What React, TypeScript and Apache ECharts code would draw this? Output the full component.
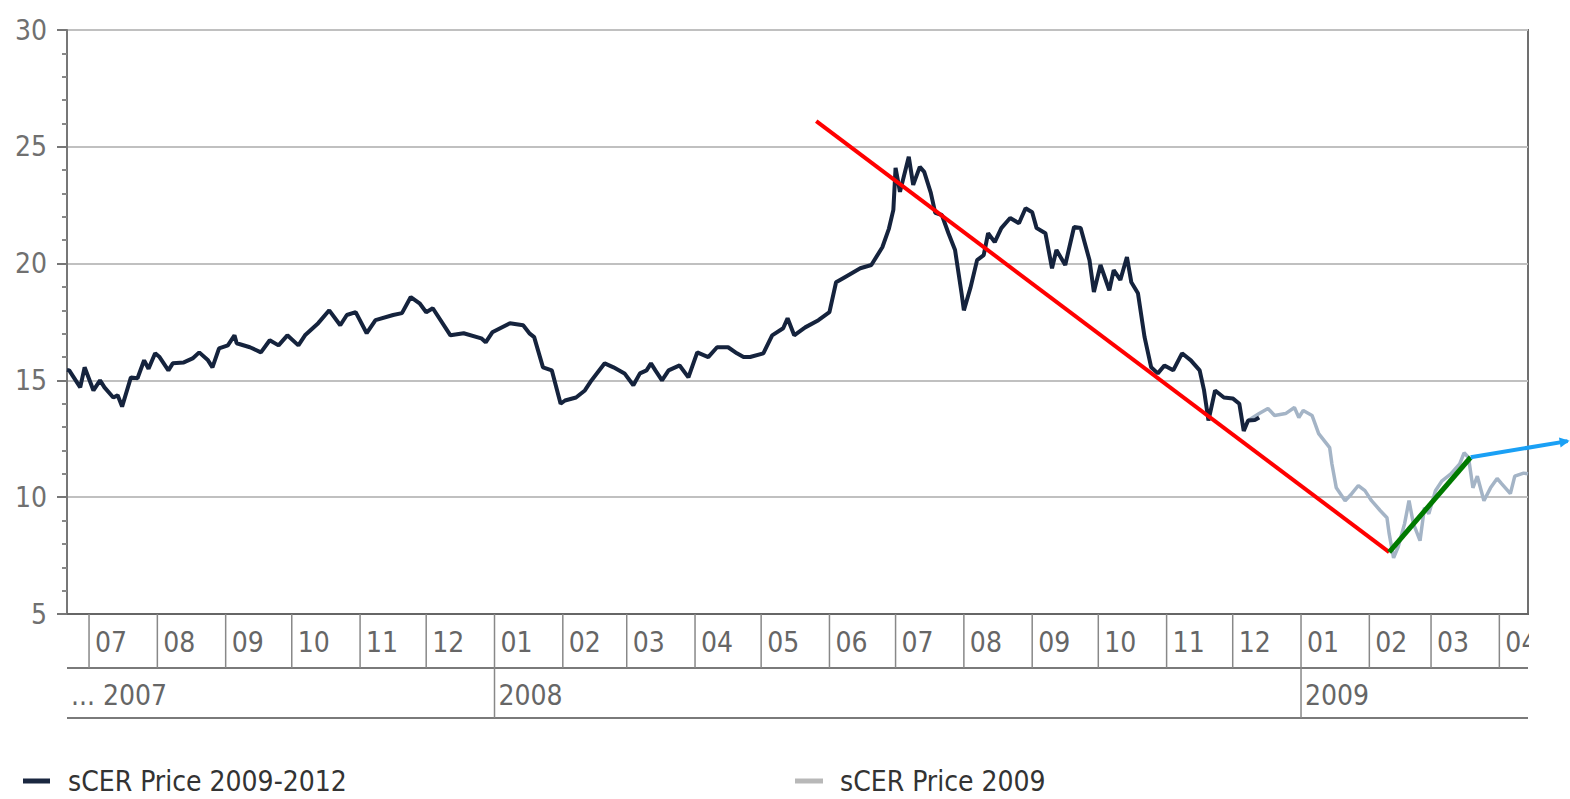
import React, { useEffect, useRef } from "react";
import * as echarts from "echarts";

const FONT = "'DejaVu Sans Condensed', 'DejaVu Sans', sans-serif";

const xMin = "2007-06-21";
const xMax = "2009-04-14";

const yTicks = [5, 10, 15, 20, 25, 30];

const monthStarts = [
  "2007-07-01", "2007-08-01", "2007-09-01", "2007-10-01", "2007-11-01", "2007-12-01",
  "2008-01-01", "2008-02-01", "2008-03-01", "2008-04-01", "2008-05-01", "2008-06-01",
  "2008-07-01", "2008-08-01", "2008-09-01", "2008-10-01", "2008-11-01", "2008-12-01",
  "2009-01-01", "2009-02-01", "2009-03-01", "2009-04-01",
];
const monthLabels = [
  "07", "08", "09", "10", "11", "12",
  "01", "02", "03", "04", "05", "06",
  "07", "08", "09", "10", "11", "12",
  "01", "02", "03", "04",
];
const yearStarts = ["2007-06-21", "2008-01-01", "2009-01-01"];
const yearLabels = ["... 2007", "2008", "2009"];

const darkDates = [
  "2007-06-21", "2007-06-22", "2007-06-27", "2007-06-29", "2007-07-03", "2007-07-06", "2007-07-08",
  "2007-07-12", "2007-07-14", "2007-07-16", "2007-07-20", "2007-07-23", "2007-07-26", "2007-07-28",
  "2007-07-31", "2007-08-02", "2007-08-06", "2007-08-08", "2007-08-13", "2007-08-17", "2007-08-20",
  "2007-08-24", "2007-08-26", "2007-08-29", "2007-09-02", "2007-09-05", "2007-09-06", "2007-09-12",
  "2007-09-17", "2007-09-21", "2007-09-25", "2007-09-29", "2007-10-04", "2007-10-07", "2007-10-13",
  "2007-10-18", "2007-10-23", "2007-10-26", "2007-10-30", "2007-11-04", "2007-11-08", "2007-11-16",
  "2007-11-20", "2007-11-24", "2007-11-28", "2007-12-01", "2007-12-04", "2007-12-12", "2007-12-18",
  "2007-12-26", "2007-12-28", "2007-12-31", "2008-01-08", "2008-01-14", "2008-01-17", "2008-01-19",
  "2008-01-23", "2008-01-27", "2008-01-31", "2008-02-02", "2008-02-07", "2008-02-11", "2008-02-14",
  "2008-02-20", "2008-02-24", "2008-02-29", "2008-03-04", "2008-03-07", "2008-03-10", "2008-03-12",
  "2008-03-14", "2008-03-17", "2008-03-20", "2008-03-25", "2008-03-29", "2008-04-02", "2008-04-07",
  "2008-04-11", "2008-04-16", "2008-04-20", "2008-04-23", "2008-04-26", "2008-05-02", "2008-05-06",
  "2008-05-11", "2008-05-13", "2008-05-16", "2008-05-21", "2008-05-27", "2008-06-01", "2008-06-04",
  "2008-06-08", "2008-06-15", "2008-06-20", "2008-06-25", "2008-06-28", "2008-06-30", "2008-07-01",
  "2008-07-03", "2008-07-07", "2008-07-09", "2008-07-12", "2008-07-14", "2008-07-17", "2008-07-19",
  "2008-07-22", "2008-07-25", "2008-07-28", "2008-07-31", "2008-08-01", "2008-08-04", "2008-08-07",
  "2008-08-10", "2008-08-12", "2008-08-15", "2008-08-18", "2008-08-22", "2008-08-26", "2008-08-29",
  "2008-09-01", "2008-09-03", "2008-09-07", "2008-09-10", "2008-09-12", "2008-09-16", "2008-09-20",
  "2008-09-23", "2008-09-27", "2008-09-29", "2008-10-02", "2008-10-06", "2008-10-08", "2008-10-11",
  "2008-10-14", "2008-10-16", "2008-10-19", "2008-10-22", "2008-10-25", "2008-10-28", "2008-10-31",
  "2008-11-04", "2008-11-08", "2008-11-12", "2008-11-16", "2008-11-18", "2008-11-20", "2008-11-23",
  "2008-11-27", "2008-12-01", "2008-12-04", "2008-12-06", "2008-12-08", "2008-12-11", "2008-12-13",
];
const darkValues = [
  15.45, 15.43, 14.7, 15.56, 14.57, 15.0, 14.7,
  14.27, 14.36, 13.88, 15.13, 15.09, 15.86, 15.5,
  16.16, 16.0, 15.43, 15.73, 15.77, 15.94, 16.2,
  15.86, 15.56, 16.37, 16.5, 16.93, 16.59, 16.42,
  16.2, 16.72, 16.5, 16.93, 16.5, 16.93, 17.45,
  18.0, 17.36, 17.8, 17.92, 17.02, 17.58, 17.8,
  17.88, 18.57, 18.3, 17.92, 18.09, 16.93, 17.02,
  16.8, 16.63, 17.06, 17.45, 17.36, 17.0, 16.85,
  15.56, 15.43, 14.0, 14.14, 14.27, 14.57, 15.0,
  15.73, 15.56, 15.3, 14.79, 15.3, 15.43, 15.73,
  15.43, 15.0, 15.43, 15.64, 15.13, 16.2, 16.0,
  16.42, 16.42, 16.16, 16.0, 16.0, 16.16, 16.93,
  17.23, 17.66, 16.93, 17.27, 17.58, 17.92, 19.2,
  19.42, 19.8, 19.94, 20.7, 21.5, 22.3, 24.1,
  23.07, 24.57, 23.37, 24.14, 23.93, 23.03, 22.17,
  22.08, 21.3, 20.58, 18.7, 18.0, 18.97, 20.15,
  20.36, 21.3, 20.92, 21.52, 21.95, 21.73, 22.37,
  22.2, 21.52, 21.3, 19.8, 20.58, 19.94, 21.57,
  21.52, 20.15, 18.78, 19.94, 18.86, 19.72, 19.3,
  20.28, 19.2, 18.73, 16.85, 15.56, 15.3, 15.64,
  15.43, 16.16, 15.86, 15.43, 14.57, 13.28, 14.57,
  14.27, 14.23, 14.0, 12.84, 13.28, 13.3, 13.41,
];

const lightDates = [
  "2008-12-08", "2008-12-13", "2008-12-17", "2008-12-20", "2008-12-25", "2008-12-29", "2008-12-31",
  "2009-01-02", "2009-01-06", "2009-01-09", "2009-01-14", "2009-01-15", "2009-01-17", "2009-01-21",
  "2009-01-24", "2009-01-27", "2009-01-30", "2009-02-02", "2009-02-06", "2009-02-09", "2009-02-10",
  "2009-02-12", "2009-02-14", "2009-02-17", "2009-02-19", "2009-02-21", "2009-02-24", "2009-02-26",
  "2009-02-28", "2009-03-03", "2009-03-06", "2009-03-10", "2009-03-14", "2009-03-16", "2009-03-18",
  "2009-03-20", "2009-03-22", "2009-03-25", "2009-03-28", "2009-03-31", "2009-04-02", "2009-04-06",
  "2009-04-08", "2009-04-12", "2009-04-14",
];
const lightValues = [
  13.28, 13.58, 13.8, 13.5, 13.58, 13.84, 13.41,
  13.71, 13.5, 12.72, 12.12, 11.43, 10.4, 9.85,
  10.15, 10.5, 10.28, 9.85, 9.42, 9.12, 8.44,
  7.4, 7.85, 8.87, 9.85, 8.87, 8.14, 9.55,
  9.29, 10.28, 10.7, 11.0, 11.43, 11.9, 11.7,
  10.4, 10.9, 9.85, 10.4, 10.8, 10.58, 10.15,
  10.9, 11.03, 11.0,
];

// hand-drawn trend annotations (date, value)
const redTrendDates = ["2008-05-26", "2009-02-10"];
const redTrendValues = [26.1, 7.65];
const greenTrendDates = ["2009-02-10", "2009-03-19"];
const greenTrendValues = [7.65, 11.71];
const blueTrendDates = ["2009-03-19", "2009-05-02"];
const blueTrendValues = [11.71, 12.4];

const zip = (d: string[], v: number[]) => d.map((x, i) => [x, v[i]]);

export default function App() {
  const ref = useRef<HTMLDivElement>(null);

  useEffect(() => {
    if (!ref.current) return;
    const chart = echarts.init(ref.current, null, { renderer: "svg" });
    const option: any = {
      animation: false,
      backgroundColor: "#ffffff",
      grid: {
        left: 67,
        right: 42,
        top: 30,
        bottom: 185,
        show: true,
        borderColor: "#707070",
        borderWidth: 2,
        backgroundColor: "transparent",
      },
      legend: [
        {
          left: 18,
          top: 762,
          icon: "rect",
          itemWidth: 27,
          itemHeight: 5,
          data: [{ name: "sCER Price 2009-2012", itemStyle: { color: "#1a2740" } }],
          textStyle: { fontSize: 28, color: "#333", fontFamily: FONT, padding: [0, 0, 0, 13] },
        },
        {
          left: 790,
          top: 762,
          icon: "rect",
          itemWidth: 28,
          itemHeight: 5,
          data: [{ name: "sCER Price 2009", itemStyle: { color: "#b8b8b8" } }],
          textStyle: { fontSize: 28, color: "#333", fontFamily: FONT, padding: [0, 0, 0, 12] },
        },
      ],
      xAxis: {
        type: "time",
        min: xMin,
        max: xMax,
        axisLine: { show: true, lineStyle: { color: "#666", width: 2 } },
        axisTick: { show: false },
        axisLabel: { show: false },
        splitLine: { show: false },
      },
      yAxis: {
        type: "value",
        min: yTicks[0],
        max: yTicks[yTicks.length - 1],
        interval: 5,
        axisLine: { show: true, lineStyle: { color: "#777", width: 2 } },
        axisTick: { show: true, length: 10, lineStyle: { color: "#777", width: 2 } },
        minorTick: { show: true, splitNumber: 5, length: 5, lineStyle: { color: "#888", width: 2 } },
        splitLine: { show: true, lineStyle: { color: "#c0c0c0", width: 2 } },
        axisLabel: { fontSize: 28, color: "#707070", fontFamily: FONT, margin: 20 },
      },
      series: [
        {
          name: "sCER Price 2009",
          type: "line",
          data: zip(lightDates, lightValues),
          showSymbol: false,
          symbol: "none",
          lineStyle: { color: "#a4b4c6", width: 3.5 },
          itemStyle: { color: "#b8b8b8" },
          z: 2,
        },
        {
          name: "sCER Price 2009-2012",
          type: "line",
          data: zip(darkDates, darkValues),
          showSymbol: false,
          symbol: "none",
          lineStyle: { color: "#15233d", width: 4 },
          itemStyle: { color: "#1a2740" },
          z: 3,
        },
      ],
    };
    chart.setOption(option);

    const px = (d: string, v: number) =>
      chart.convertToPixel({ gridIndex: 0 }, [echarts.time.parse(d).getTime(), v]) as number[];

    const [x0, yBottom] = px(xMin, yTicks[0]);
    const [x1] = px(xMax, yTicks[0]);
    const row1 = yBottom + 54;
    const row2 = yBottom + 104;
    const axisGray = "#7a7a7a";
    const g: any[] = [];

    g.push({ type: "line", z: 50, shape: { x1: x0, y1: row1, x2: x1, y2: row1 }, style: { stroke: axisGray, lineWidth: 2 } });
    g.push({ type: "line", z: 50, shape: { x1: x0, y1: row2, x2: x1, y2: row2 }, style: { stroke: axisGray, lineWidth: 2 } });

    monthStarts.forEach((d, i) => {
      const [mx] = px(d, yTicks[0]);
      g.push({ type: "line", z: 50, shape: { x1: mx, y1: yBottom, x2: mx, y2: row1 }, style: { stroke: "#888", lineWidth: 1.5 } });
      g.push({
        type: "text",
        z: 60,
        x: mx + 6,
        y: (yBottom + row1) / 2 + 1,
        style: { text: monthLabels[i], fontSize: 28, fontFamily: FONT, fill: "#666", textAlign: "left", textVerticalAlign: "middle", verticalAlign: "middle" },
      });
    });
    yearStarts.forEach((d, i) => {
      const [yx] = px(d, yTicks[0]);
      if (i > 0) {
        g.push({ type: "line", z: 50, shape: { x1: yx, y1: row1, x2: yx, y2: row2 }, style: { stroke: "#888", lineWidth: 1.5 } });
      }
      g.push({
        type: "text",
        z: 60,
        x: yx + 4,
        y: (row1 + row2) / 2 + 2,
        style: { text: yearLabels[i], fontSize: 28, fontFamily: FONT, fill: "#666", textAlign: "left", textVerticalAlign: "middle", verticalAlign: "middle" },
      });
    });
    // clip month labels beyond right edge
    g.push({ type: "rect", z: 70, shape: { x: x1 + 1, y: yBottom + 2, width: 60, height: row1 - yBottom - 3 }, style: { fill: "#ffffff" } });

    const trend = (dates: string[], vals: number[], color: string, width: number) => {
      const a = px(dates[0], vals[0]);
      const b = px(dates[1], vals[1]);
      g.push({ type: "line", z: 80, shape: { x1: a[0], y1: a[1], x2: b[0], y2: b[1] }, style: { stroke: color, lineWidth: width, lineCap: "butt" } });
      return [a, b];
    };
    trend(redTrendDates, redTrendValues, "#ff0000", 4);
    trend(greenTrendDates, greenTrendValues, "#007a00", 5);
    const [ba, bb] = trend(blueTrendDates, blueTrendValues, "#1aa0f5", 4);
    // arrow head
    const dx = bb[0] - ba[0];
    const dy = bb[1] - ba[1];
    const len = Math.hypot(dx, dy);
    const ux = dx / len;
    const uy = dy / len;
    const hl = 8;
    const hw = 5;
    g.push({
      type: "polygon",
      z: 81,
      shape: {
        points: [
          [bb[0] + ux * 2, bb[1] + uy * 2],
          [bb[0] - ux * hl - uy * hw, bb[1] - uy * hl + ux * hw],
          [bb[0] - ux * hl + uy * hw, bb[1] - uy * hl - ux * hw],
        ],
      },
      style: { fill: "#1aa0f5" },
    });

    chart.setOption({ graphic: g });

    return () => chart.dispose();
  }, []);

  return (
    <div
      ref={ref}
      style={{ position: "fixed", left: 0, top: 0, width: 1570, height: 799, background: "#fff" }}
    />
  );
}
